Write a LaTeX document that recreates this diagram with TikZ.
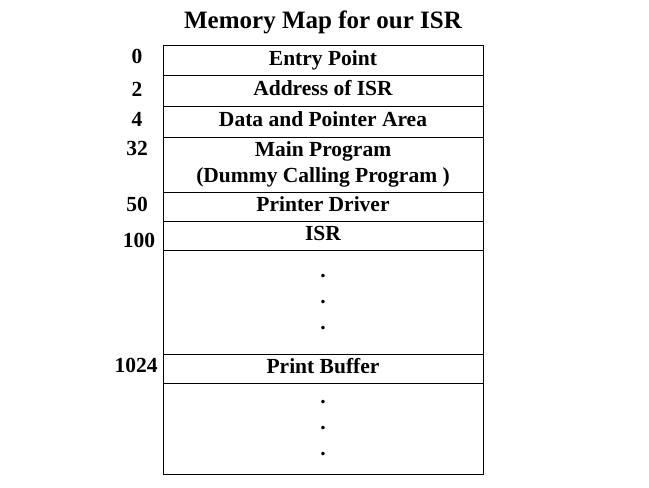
\documentclass[tikz,border=0pt]{standalone}
\usepackage{fontspec}
\setmainfont{Liberation Serif}
\usepackage{tikz}
\usetikzlibrary{positioning}

\begin{document}
\begin{tikzpicture}[
    node distance=0pt,
    font=\fontsize{21.5}{26}\selectfont\bfseries,
    cell/.style={rectangle, draw, line width=0.9pt, minimum width=320pt, outer sep=0pt, inner sep=0pt, align=center},
    line/.style={text height=14pt, text depth=4pt},
    addr/.style={inner sep=0pt, anchor=center},
    heading/.style={inner sep=0pt, font=\fontsize{25}{28}\selectfont\bfseries}
]
\useasboundingbox (0,0) rectangle (649pt,-488pt);

\node[cell, line, minimum height=30pt] (entry) at (323pt,-60pt) {Entry Point};
\node[cell, line, minimum height=31pt, below=of entry] (israddr) {Address of ISR};
\node[cell, line, minimum height=31pt, below=of israddr] (data) {Data and Pointer Area};
\node[cell, minimum height=55pt, below=of data] (main) {Main Program\\(Dummy Calling Program )};
\node[cell, line, minimum height=29pt, below=of main] (driver) {Printer Driver};
\node[cell, line, minimum height=29pt, below=of driver] (isr) {ISR};
\node[cell, minimum height=104pt, below=of isr] (gapa) {.\\.\\.};
\node[cell, line, minimum height=29pt, below=of gapa] (buffer) {Print Buffer};
\node[cell, minimum height=91pt, below=of buffer] (gapb) {.\\.\\.};

\node[heading, above=11pt of entry] (title) {Memory Map for our ISR};

% start addresses
\node[addr] (a0) at ([shift={(-26pt,-11pt)}]entry.north west) {0};
\node[addr] (a2) at ([shift={(-26pt,-14pt)}]israddr.north west) {2};
\node[addr] (a4) at ([shift={(-26pt,-13pt)}]data.north west) {4};
\node[addr] (a32) at ([shift={(-26pt,-11pt)}]main.north west) {32};
\node[addr] (a50) at ([shift={(-26pt,-12pt)}]driver.north west) {50};
\node[addr] (a100) at ([shift={(-24pt,-19pt)}]isr.north west) {100};
\node[addr] (a1024) at ([shift={(-27pt,-11pt)}]buffer.north west) {1024};
\end{tikzpicture}
\end{document}
